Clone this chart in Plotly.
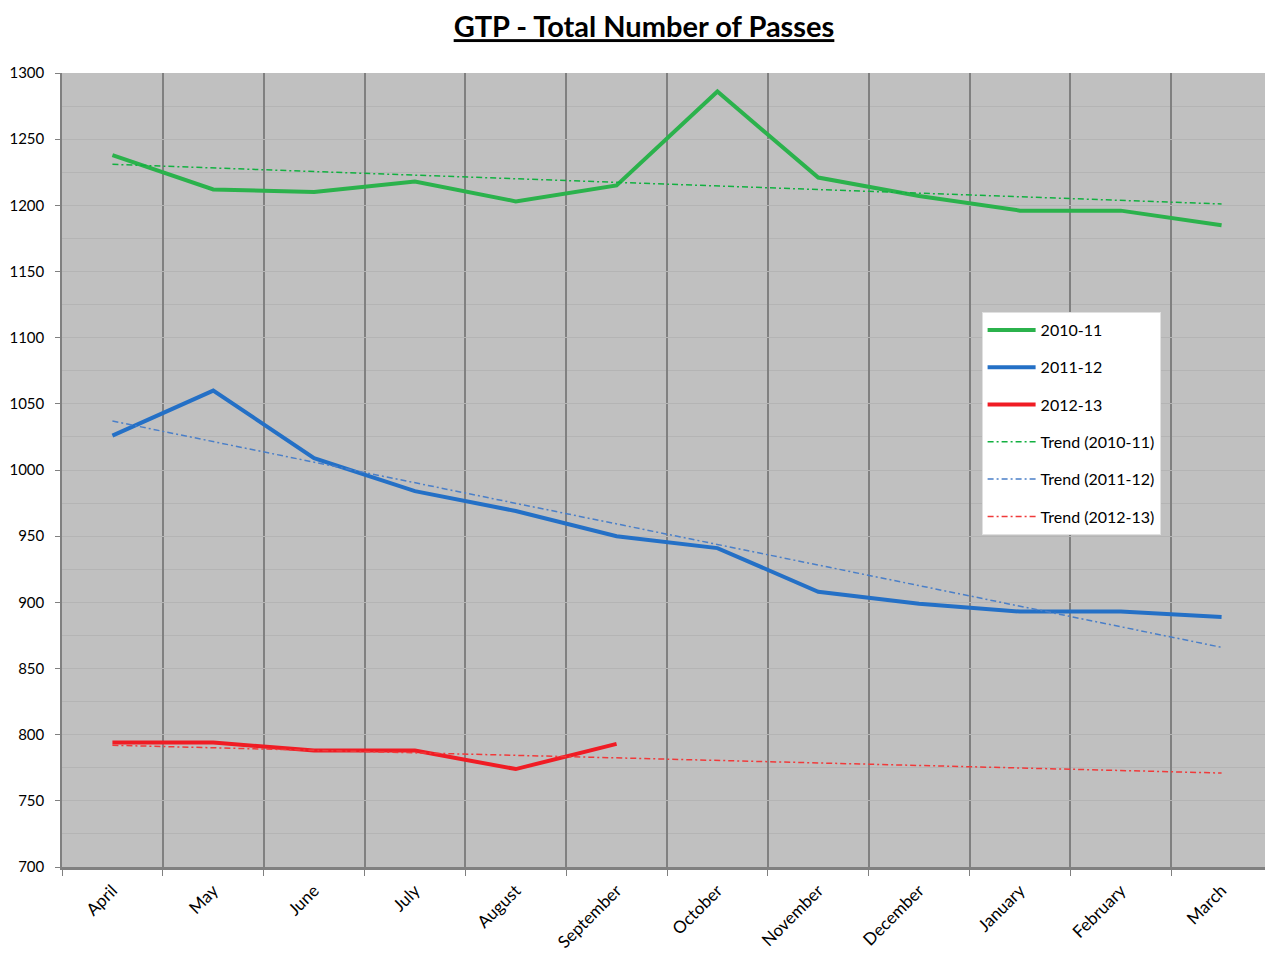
import plotly.graph_objects as go

months = ["April", "May", "June", "July", "August", "September",
          "October", "November", "December", "January", "February", "March"]

s_2010_11 = [1238, 1212, 1210, 1218, 1203, 1215, 1286, 1221, 1207, 1196, 1196, 1185]
s_2011_12 = [1026, 1060, 1009, 984, 969, 950, 941, 908, 899, 893, 893, 889]
s_2012_13 = [794, 794, 788, 788, 774, 793]

# linear trendline endpoints (April, March)
trend_2010_11 = [1231, 1201]
trend_2011_12 = [1037, 866]
trend_2012_13 = [792, 771]
trend_x = [months[0], months[-1]]

FONT = "Lato"
fig = go.Figure()

main = [("2010-11", s_2010_11, "#2bb24c"),
        ("2011-12", s_2011_12, "#2470c6"),
        ("2012-13", s_2012_13, "#f01c24")]
for i, (name, vals, col) in enumerate(main):
    fig.add_trace(go.Scatter(x=months[:len(vals)], y=vals, mode="lines", name=name,
                             line=dict(color=col, width=4), legendgroup=f"g{i}"))

trends = [("Trend (2010-11)", trend_2010_11, "#12b040"),
          ("Trend (2011-12)", trend_2011_12, "#4a7fc8"),
          ("Trend (2012-13)", trend_2012_13, "#f03a3a")]
for i, (name, vals, col) in enumerate(trends):
    fig.add_trace(go.Scatter(x=trend_x, y=vals, mode="lines", name=name,
                             line=dict(color=col, width=1.5, dash="6px,3px,2px,3px"),
                             legendgroup=f"t{i}"))

H = 952
fig.update_layout(
    width=1265, height=H,
    margin=dict(l=54, r=1, t=65, b=93),
    paper_bgcolor="white", plot_bgcolor="#c0c0c0",
    font=dict(family=FONT, size=15, color="black"),
    title=dict(text="<b><u>GTP - Total Number of Passes</u></b>",
               x=(644 - 8) / 1265, xanchor="center", y=1 - 19 / H, yanchor="middle",
               font=dict(family=FONT, size=29, color="black")),
    showlegend=True,
    legend=dict(x=0.760, y=0.699, xanchor="left", yanchor="top",
                bgcolor="white", bordercolor="#e0e0e0", borderwidth=1,
                tracegroupgap=13.5, itemwidth=48,
                font=dict(family=FONT, size=16, color="black")),
    xaxis=dict(type="category", categoryorder="array", categoryarray=months,
               range=[-0.5, 11.5], tickson="boundaries", ticks="outside",
               ticklen=6, tickcolor="#808080", showgrid=True, gridcolor="#808080",
               gridwidth=1.5, tickangle=-45, showline=True, linecolor="#808080",
               linewidth=3, tickfont=dict(size=17), ticklabelstandoff=4,
               zeroline=False),
    yaxis=dict(range=[700, 1300], dtick=50, ticks="outside", ticklen=5,
               tickcolor="#808080", showline=True, linecolor="#808080", linewidth=1.5,
               showgrid=True, gridcolor="#b4b4b4", gridwidth=1,
               minor=dict(dtick=25, showgrid=True, gridcolor="#b4b4b4", gridwidth=1),
               ticklabelstandoff=8, tickfont=dict(size=15), zeroline=False),
)

fig.write_html("out.html")
